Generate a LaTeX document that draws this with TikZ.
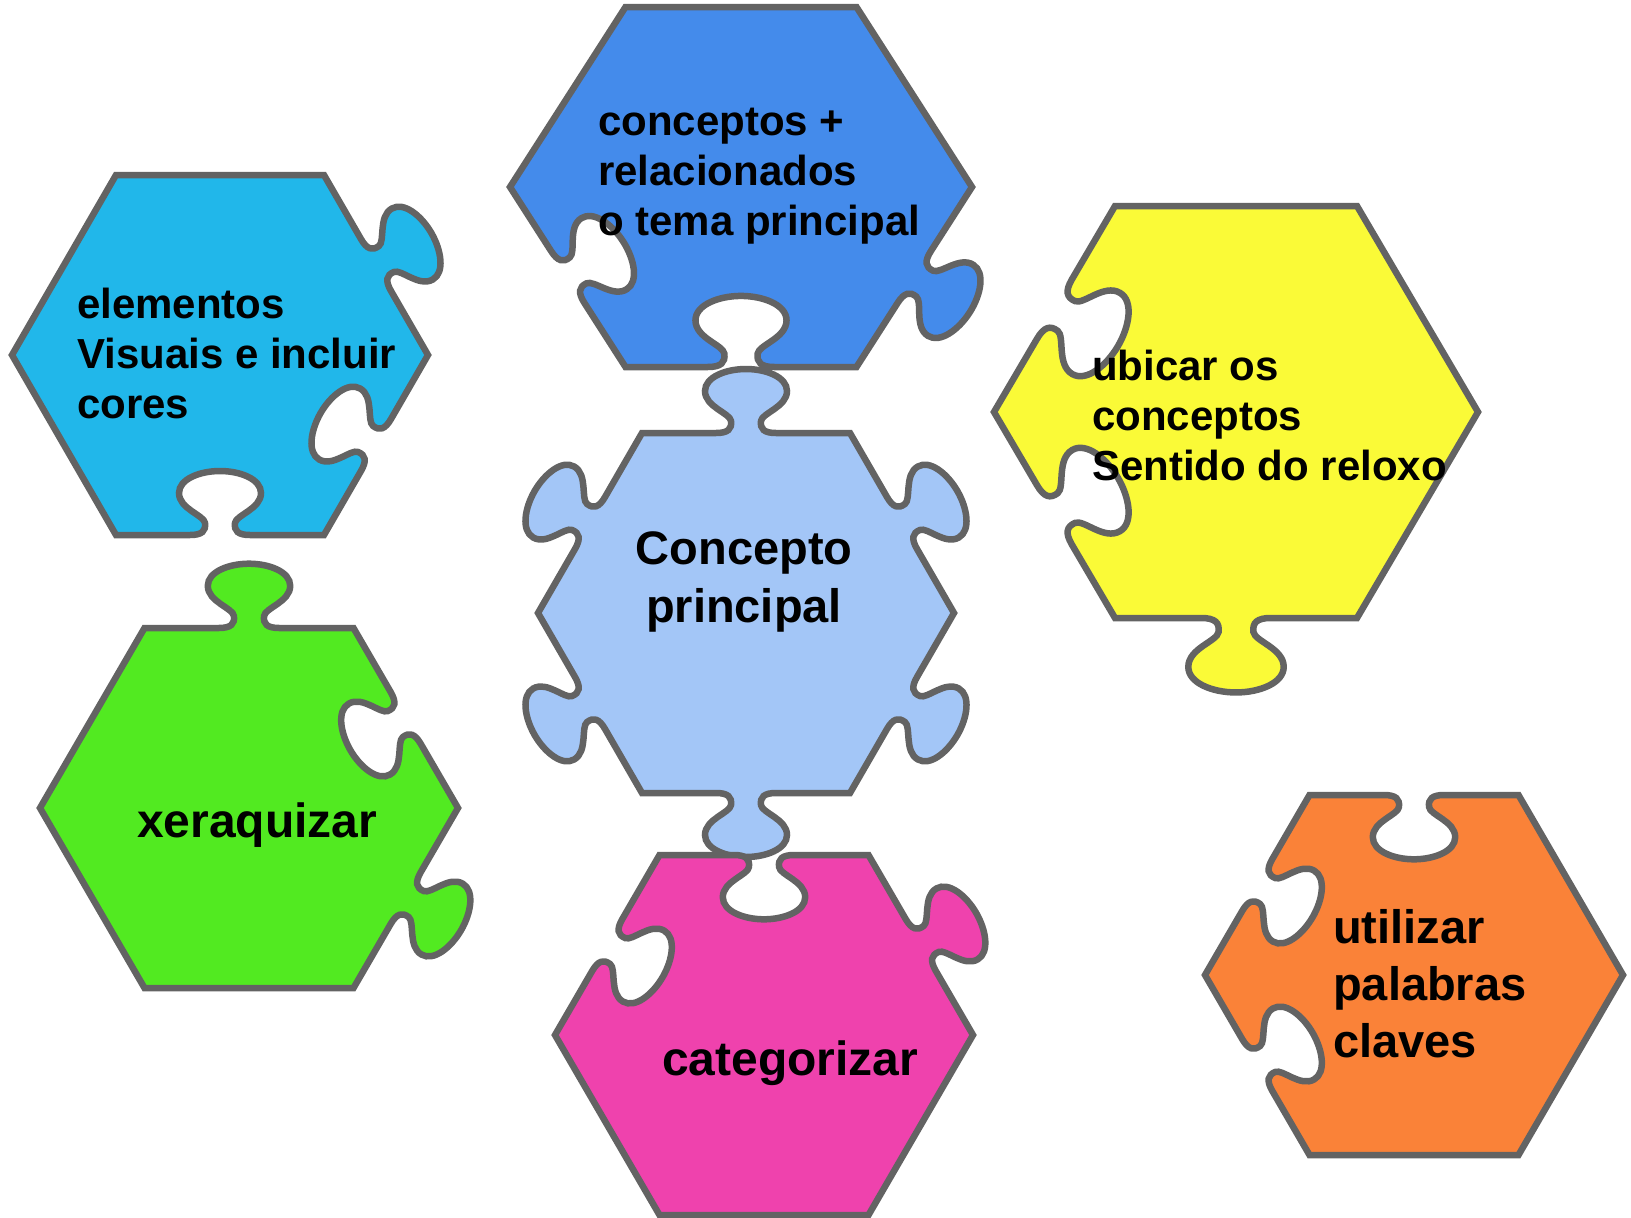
\documentclass[tikz,border=0pt]{standalone}
\usepackage{fontspec}
\setmainfont{Liberation Sans}
\usetikzlibrary{calc}
\definecolor{edgegray}{RGB}{99,99,99}
\definecolor{cyanfill}{RGB}{33,183,234}
\definecolor{bluefill}{RGB}{68,139,235}
\definecolor{lightfill}{RGB}{163,198,247}
\definecolor{yellowfill}{RGB}{250,250,55}
\definecolor{greenfill}{RGB}{82,234,33}
\definecolor{pinkfill}{RGB}{239,66,173}
\definecolor{orangefill}{RGB}{250,130,56}
\newcommand\hexcoords[5]{%
  \coordinate (#1-TL) at ({#2-#4/2},{#3-#5});
  \coordinate (#1-TR) at ({#2+#4/2},{#3-#5});
  \coordinate (#1-R)  at ({#2+#4},{#3});
  \coordinate (#1-BR) at ({#2+#4/2},{#3+#5});
  \coordinate (#1-BL) at ({#2-#4/2},{#3+#5});
  \coordinate (#1-L)  at ({#2-#4},{#3});
}
\tikzset{
  flatedge/.style={to path={-- (\tikztotarget)}},
  tabedge/.style={to path={let \p1=(\tikztostart), \p2=(\tikztotarget),
     \n1={atan2(\y2-\y1,\x2-\x1)}, \n2={veclen(\x2-\x1,\y2-\y1)/208} in
     {[reset cm, shift={(\p1)}, rotate=\n1, scale=\n2, x=1pt, y=1pt]
      -- (74,0) .. controls (86,0) and (90,4) .. (89,12)
      .. controls (88,20) and (63,26) .. (63,42)
      .. controls (63,56) and (84,64) .. (104,64)
      .. controls (124,64) and (145,56) .. (145,42)
      .. controls (145,26) and (120,20) .. (119,12)
      .. controls (118,4) and (122,0) .. (134,0)} -- (\tikztotarget)}},
  blankedge/.style={to path={let \p1=(\tikztostart), \p2=(\tikztotarget),
     \n1={atan2(\y2-\y1,\x2-\x1)}, \n2={veclen(\x2-\x1,\y2-\y1)/208} in
     {[reset cm, shift={(\p1)}, rotate=\n1, scale=\n2, x=1pt, y=1pt]
      -- (74,0) .. controls (86,0) and (90,-4) .. (89,-12)
      .. controls (88,-20) and (63,-26) .. (63,-42)
      .. controls (63,-56) and (84,-64) .. (104,-64)
      .. controls (124,-64) and (145,-56) .. (145,-42)
      .. controls (145,-26) and (120,-20) .. (119,-12)
      .. controls (118,-4) and (122,0) .. (134,0)} -- (\tikztotarget)}},
  piece/.style={draw=edgegray, line width=6.5pt},
  lbl/.style={inner sep=0pt, align=left, font=\bfseries\fontsize{42}{50}\selectfont},
  biglbl/.style={inner sep=0pt, align=left, font=\bfseries\fontsize{48}{58}\selectfont},
}
\begin{document}
\begin{tikzpicture}[x=1pt,y=-1pt]
\useasboundingbox (0,0) rectangle (1631,1218);
\hexcoords{cy}{220}{355}{208}{180}
\hexcoords{bl}{741}{187}{231}{180}
\hexcoords{lb}{746}{613}{208}{180}
\hexcoords{ye}{1236}{412}{242}{206}
\hexcoords{gr}{249}{808}{209}{180}
\hexcoords{pk}{764}{1035}{209}{180}
\hexcoords{or}{1414}{975}{209}{180}
% cyan
\draw[piece, fill=cyanfill] (cy-TL) to[flatedge] (cy-TR) to[tabedge] (cy-R) to[blankedge] (cy-BR)
  to[blankedge] (cy-BL) to[flatedge] (cy-L) to[flatedge] (cy-TL) -- cycle;
% blue
\draw[piece, fill=bluefill] (bl-TL) to[flatedge] (bl-TR) to[flatedge] (bl-R) to[tabedge] (bl-BR)
  to[blankedge] (bl-BL) to[blankedge] (bl-L) to[flatedge] (bl-TL) -- cycle;
% light blue centre
\draw[piece, fill=lightfill] (lb-TL) to[tabedge] (lb-TR) to[tabedge] (lb-R) to[tabedge] (lb-BR)
  to[tabedge] (lb-BL) to[tabedge] (lb-L) to[tabedge] (lb-TL) -- cycle;
% yellow
\draw[piece, fill=yellowfill] (ye-TL) to[flatedge] (ye-TR) to[flatedge] (ye-R) to[flatedge] (ye-BR)
  to[tabedge] (ye-BL) to[blankedge] (ye-L) to[blankedge] (ye-TL) -- cycle;
% green
\draw[piece, fill=greenfill] (gr-TL) to[tabedge] (gr-TR) to[blankedge] (gr-R) to[tabedge] (gr-BR)
  to[flatedge] (gr-BL) to[flatedge] (gr-L) to[flatedge] (gr-TL) -- cycle;
% pink
\draw[piece, fill=pinkfill] (pk-TL) to[blankedge] (pk-TR) to[tabedge] (pk-R) to[flatedge] (pk-BR)
  to[flatedge] (pk-BL) to[flatedge] (pk-L) to[blankedge] (pk-TL) -- cycle;
% orange
\draw[piece, fill=orangefill] (or-TL) to[blankedge] (or-TR) to[flatedge] (or-R) to[flatedge] (or-BR)
  to[flatedge] (or-BL) to[blankedge] (or-L) to[blankedge] (or-TL) -- cycle;
% texts (base anchor = baseline of the last line)
\node[lbl, anchor=base west] (tcyan) at (77,418) {elementos\\Visuais e incluir\\cores};
\node[lbl, anchor=base west] (tblue) at (598,235) {conceptos +\\relacionados\\o tema principal};
\node[inner sep=0pt, align=center, font=\bfseries\fontsize{47}{58}\selectfont, anchor=base] (tcentre) at (744,622) {Concepto\\principal};
\node[lbl, anchor=base west] (tyellow) at (1092,480) {ubicar os\\conceptos\\Sentido do reloxo};
\node[biglbl, anchor=base west] (tgreen) at (137,837) {xeraquizar};
\node[biglbl, anchor=base west] (tpink) at (662,1075) {categorizar};
\node[inner sep=0pt, align=left, font=\bfseries\fontsize{47}{57}\selectfont, anchor=base west] (torange) at (1333,1057) {utilizar\\palabras\\claves};
\end{tikzpicture}
\end{document}
